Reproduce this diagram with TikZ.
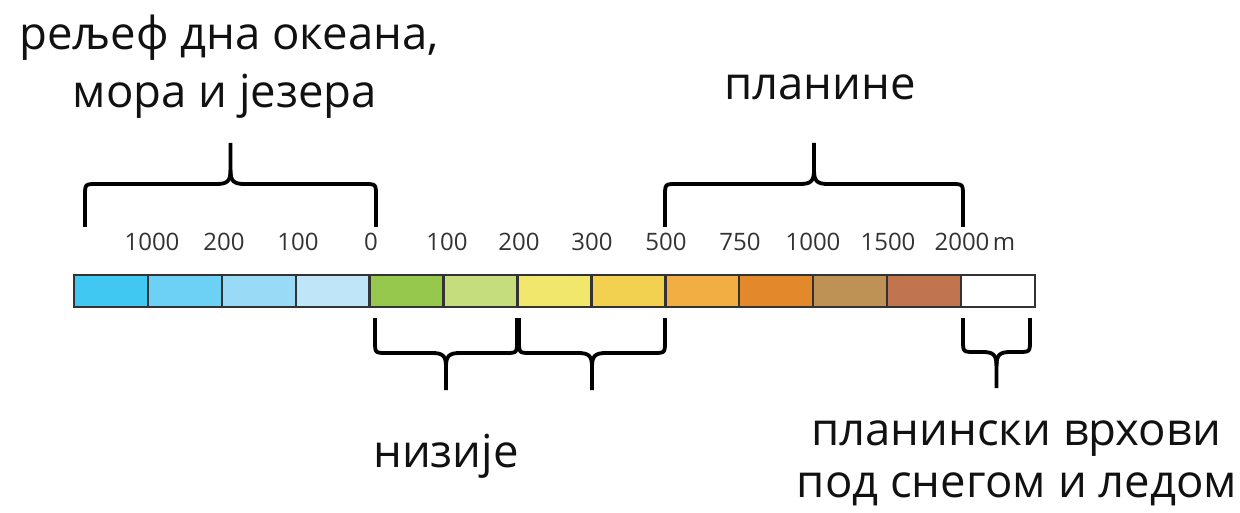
\documentclass[tikz,border=0pt]{standalone}
\usepackage{fontspec}
\setmainfont{Open Sans}
\definecolor{c1}{HTML}{40C8F2}
\definecolor{c2}{HTML}{6DD0F5}
\definecolor{c3}{HTML}{99DAF6}
\definecolor{c4}{HTML}{BEE5F8}
\definecolor{c5}{HTML}{96C84E}
\definecolor{c6}{HTML}{C5DD7C}
\definecolor{c7}{HTML}{F0E76C}
\definecolor{c8}{HTML}{F2D150}
\definecolor{c9}{HTML}{F2AE42}
\definecolor{c10}{HTML}{E3892B}
\definecolor{c11}{HTML}{BE9254}
\definecolor{c12}{HTML}{C0754F}
\definecolor{c13}{HTML}{FFFFFF}
\definecolor{outl}{HTML}{333333}
\definecolor{numc}{HTML}{333333}
\definecolor{txt}{HTML}{111111}
\newcommand\mybrace[5]{%
  \pgfmathsetmacro\bxm{(#1+#2)/2}%
  \pgfmathsetmacro\be{(#3>#4)?1:-1}%
  \draw[bracestyle]
    (#1,#3) -- ({#1},{#4+\be*12}) .. controls ({#1},{#4}) .. ({#1+12},{#4})
    -- ({\bxm-14},{#4}) .. controls ({\bxm-3},{#4}) and ({\bxm},{#4-\be*3}) .. ({\bxm},{#4-\be*14})
    -- ({\bxm},{#5});
  \draw[bracestyle]
    (#2,#3) -- ({#2},{#4+\be*12}) .. controls ({#2},{#4}) .. ({#2-12},{#4})
    -- ({\bxm+14},{#4}) .. controls ({\bxm+3},{#4}) and ({\bxm},{#4-\be*3}) .. ({\bxm},{#4-\be*14});
}
\begin{document}
\begin{tikzpicture}[x=1pt,y=-1pt,
  bracestyle/.style={draw=black,line width=3.8pt,line join=round},
  cell/.style={draw=outl,line width=2.4pt},
  num/.style={font=\fontsize{24}{28}\selectfont,text=numc,anchor=base,inner sep=0pt},
  lab/.style={font=\fontsize{45.5}{54}\selectfont,text=txt,anchor=base,inner sep=0pt}]
\useasboundingbox (0,0) rectangle (1240,513);
% bar cells
\foreach \i in {1,...,13}{
  \pgfmathsetmacro\xa{74+(\i-1)*73.92}
  \pgfmathsetmacro\xb{74+\i*73.92}
  \fill[c\i] (\xa,275) rectangle (\xb,307);
}
\foreach \i in {1,...,13}{
  \pgfmathsetmacro\xa{74+(\i-1)*73.92}
  \pgfmathsetmacro\xb{74+\i*73.92}
  \draw[cell] (\xa,275) rectangle (\xb,307);
}
% numbers
\node[num] (n1) at (152,251) {1000};
\node[num] (n2) at (224,251) {200};
\node[num] (n3) at (298,251) {100};
\node[num] (n4) at (371,251) {0};
\node[num] (n5) at (447,251) {100};
\node[num] (n6) at (519,251) {200};
\node[num] (n7) at (592,251) {300};
\node[num] (n8) at (666,251) {500};
\node[num] (n9) at (740,251) {750};
\node[num] (n10) at (813,251) {1000};
\node[num] (n11) at (888,251) {1500};
\node[num] (n12) at (962,251) {2000};
\node[num,anchor=base west] (n13) at ([xshift=3pt]n12.base east) {m};
% braces
\mybrace{85}{376}{227}{184}{143}
\mybrace{665}{963}{227}{184}{143}
\mybrace{375}{517}{318}{353}{390}
\mybrace{519}{665}{318}{353}{390}
\mybrace{963}{1030}{318}{352}{388}
% labels
\node[lab] (ocean1) at (229,50) {рељеф дна океана,};
\node[lab] (ocean2) at (225,108) {мора и језера};
\node[lab] (mount) at (820,100) {планине};
\node[lab] (low) at (446,467) {низије};
\node[lab] (peak1) at (1016,445) {планински врхови};
\node[lab] (peak2) at (1017,497) {под снегом и ледом};
\end{tikzpicture}
\end{document}
